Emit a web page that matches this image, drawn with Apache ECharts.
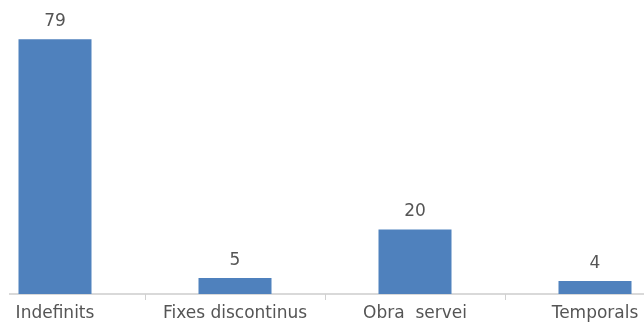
<!DOCTYPE html>
<html>
<head>
<meta charset="utf-8">
<script src="https://cdn.jsdelivr.net/npm/echarts@6/dist/echarts.min.js"></script>
<style>
  html, body { margin: 0; padding: 0; background: #fff; overflow: hidden; }
  #frame { position: absolute; left: 9px; top: 0; width: 635px; height: 323px; overflow: hidden; }
  #chart { position: absolute; left: -44px; top: 0; width: 720px; height: 323px; }
</style>
</head>
<body>
<div id="frame"><div id="chart"></div></div>
<script>
// Contract types and head counts
const categories = ['Indefinits', 'Fixes discontinus', 'Obra  servei', 'Temporals'];
const counts = [79, 5, 20, 4];

const chart = echarts.init(document.getElementById('chart'), null, { renderer: 'canvas' });
chart.setOption({
  animation: false,
  grid: { left: 0, right: 0, top: 36, bottom: 29 },
  xAxis: {
    type: 'category',
    data: categories,
    boundaryGap: true,
    axisLine: { show: true, lineStyle: { color: '#d9d9d9', width: 2 } },
    axisTick: { show: true, alignWithLabel: false, length: 6, lineStyle: { color: '#d0d0d0', width: 1 } },
    axisLabel: {
      color: '#555555',
      fontFamily: 'DejaVu Sans',
      fontSize: 17,
      margin: 11,
      interval: 0
    }
  },
  yAxis: {
    type: 'value',
    min: 0,
    max: 80,
    show: false,
    splitLine: { show: false }
  },
  series: [{
    type: 'bar',
    data: counts,
    barWidth: 73,
    itemStyle: { color: '#4f81bd' },
    label: {
      show: true,
      position: 'top',
      distance: 9,
      color: '#555555',
      fontFamily: 'DejaVu Sans',
      fontSize: 17
    }
  }]
});
</script>
</body>
</html>
